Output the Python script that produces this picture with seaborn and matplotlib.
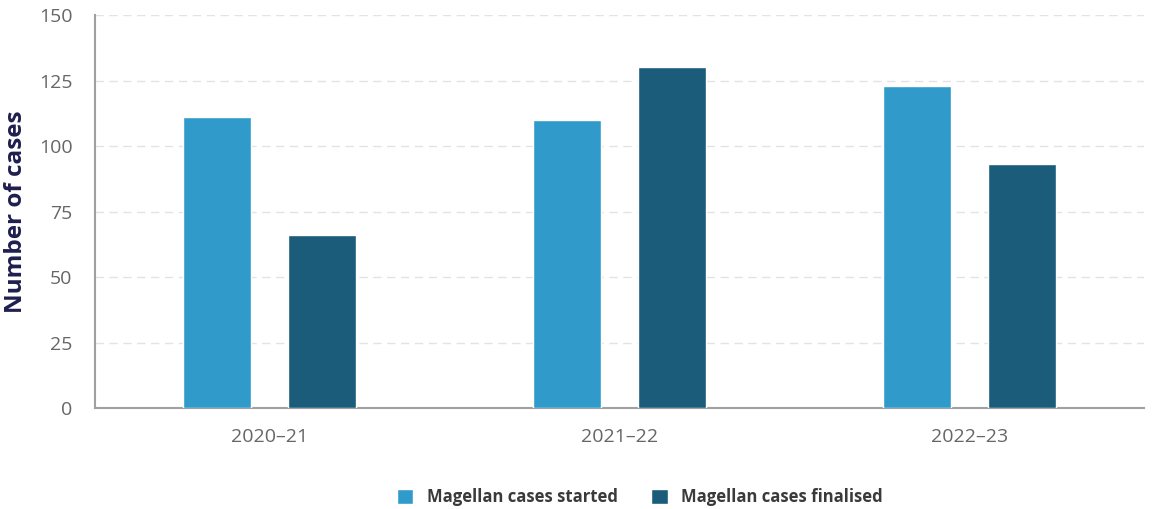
import numpy as np
import matplotlib.pyplot as plt
import seaborn as sns
import pandas as pd

# Values
years = ['2020–21', '2021–22', '2022–23']
started = [111, 110, 123]
finalised = [66, 130, 93]
series = ['Magellan cases started', 'Magellan cases finalised']
colors = ['#309BCB', '#1A5C7A']

df = pd.DataFrame({
    'Year': years * 2,
    'Series': [series[0]] * 3 + [series[1]] * 3,
    'Cases': started + finalised,
})

sns.set_style('white')
plt.rcParams['font.family'] = ['Open Sans', 'DejaVu Sans']

fig = plt.figure(figsize=(11.56, 5.09), dpi=100)
ax = fig.add_axes([0.082, 0.198, 0.908, 0.7725])

sns.barplot(data=df, x='Year', y='Cases', hue='Series', palette=colors,
            saturation=1, width=0.6, gap=0.35, ax=ax, legend=True, zorder=3)

ax.set_ylim(0, 150)
ax.set_xlim(-0.5, 2.5)
ax.set_yticks(range(0, 151, 25))
ax.yaxis.grid(True, linestyle=(0, (6, 4)), color='#e3e3e3', linewidth=1, zorder=0)
ax.xaxis.grid(False)

for s in ['top', 'right']:
    ax.spines[s].set_visible(False)
for s in ['left', 'bottom']:
    ax.spines[s].set_color('#a0a0a0')
    ax.spines[s].set_linewidth(1.5)

ax.tick_params(axis='both', length=0, labelsize=14, colors='#666666')
ax.tick_params(axis='x', pad=14)
ax.tick_params(axis='y', pad=16)

ax.set_xlabel('')
ax.set_ylabel('Number of cases', fontsize=17.5, fontweight='bold', color='#1f1f4f', labelpad=8)

ax.legend(loc='upper center', bbox_to_anchor=(0.519, -0.165), ncol=2, frameon=False,
          handlelength=1.0, handleheight=1.0, columnspacing=2.0, handletextpad=0.8,
          prop={'size': 12, 'weight': 'bold'}, labelcolor='#3a3a3a')

fig.savefig('out.png', dpi=100)
